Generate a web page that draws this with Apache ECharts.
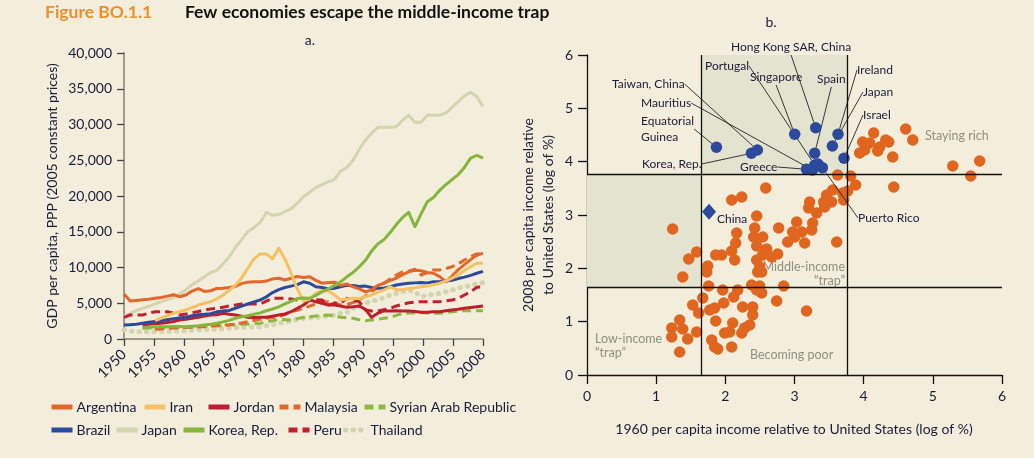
<!DOCTYPE html>
<html><head><meta charset="utf-8">
<script src="https://cdn.jsdelivr.net/npm/echarts@6/dist/echarts.min.js"></script>
<style>html,body{margin:0;padding:0;background:#f2eedb}#c{width:1034px;height:458px}</style>
</head><body><div id="c"></div>
<script>
// ---------- Panel a data (GDP per capita, PPP, 2005 constant prices), 1950..2008 ----------
const FIRST_YEAR = 1950, LAST_YEAR = 2008;
const YEARS = Array.from({length: LAST_YEAR - FIRST_YEAR + 1}, (_, i) => FIRST_YEAR + i);
const X_TICK_LABELS = ['1950','1955','1960','1965','1970','1975','1980','1985','1990','1995','2000','2005','2008'];
const Y_TICKS_A = [0, 40000, 5000];

const ARGENTINA = [6300,5300,5400,5500,5550,5700,5800,6000,6200,5900,
  6150,6700,7050,6650,6750,7080,7100,7200,7350,7750,
  7950,8000,8020,8100,8400,8500,8250,8500,8750,8600,
  8700,8200,7800,7900,7950,7500,7700,7300,7000,6600,
  6850,7500,7800,8200,8500,9000,9400,9600,9550,9300,
  9190,8720,8000,8800,9700,10400,11100,11700,12000];
const IRAN = [null,null,null,null,null,2560,2900,3250,3590,3850,
  4060,4400,4750,5000,5220,5600,6150,6800,7550,8500,
  9900,11200,11900,11900,11200,12700,11200,9200,7000,5300,
  5600,6400,6800,6700,6150,5450,5600,5700,5650,5900,
  6150,6550,6850,7300,6900,6900,7050,7150,7300,7400,
  7600,7800,8100,8500,9000,9600,10100,10600,10600];
const JORDAN = [null,null,null,1960,2050,2150,2200,2300,2450,2650,
  2750,2900,3030,3200,3360,3400,3590,3450,3360,3200,
  3030,3000,3030,3030,3200,3360,3500,3820,4300,4750,
  5450,5220,5000,4750,4750,4600,4430,4500,4620,4150,
  3030,3590,3920,3920,3950,3900,3920,3850,3730,3750,
  3800,3820,3950,4060,4150,4290,4400,4500,4620];
const MALAYSIA = [null,null,null,null,null,1350,1400,1490,1550,1600,
  1630,1650,1700,1720,1800,1900,1960,2000,2100,2250,
  2420,2600,2750,2890,3000,3120,3400,3820,4000,4290,
  4600,4900,5100,5220,5100,4750,4800,5100,5450,6000,
  6620,7200,7790,8400,8950,9410,9500,9750,8950,9300,
  9650,9650,9850,10110,10500,11050,11500,11890,11980];
const SYRIA = [null,null,null,1500,1550,1550,1550,1580,1580,1600,
  1600,1650,1720,1750,1800,1820,1880,1960,2000,2050,
  2100,2150,2190,2400,2560,2750,2700,2660,2850,3030,
  3100,3220,3300,3360,3200,3030,2950,2890,2700,2560,
  2650,2750,2900,3030,3300,3590,3620,3650,3680,3650,
  3600,3590,3700,3820,3900,3960,3960,3960,3960];
const BRAZIL = [1960,2000,2050,2200,2350,2450,2550,2700,2850,2950,
  3050,3250,3400,3450,3550,3800,3900,4000,4300,4600,
  4900,5200,5450,5900,6500,6900,7200,7400,7600,8000,
  7800,7300,7200,7000,7100,7300,7500,7500,7350,7400,
  7200,7100,7100,7300,7550,7700,7800,7850,7900,7850,
  8000,8020,8100,8200,8450,8650,8900,9200,9450];
const JAPAN = [3200,3600,3950,4300,4550,4900,5200,5500,5800,6300,
  6900,7600,8100,8700,9300,9600,10500,11500,12800,13900,
  15000,15600,16300,17700,17300,17400,17800,18200,19000,19900,
  20500,21200,21600,22000,22300,23500,24000,25000,26500,27800,
  28800,29600,29600,29600,29700,30600,31300,30300,30300,31300,
  31300,31300,31600,32400,33200,34000,34500,33900,32500];
const KOREA = [null,null,null,1600,1650,1700,1700,1700,1750,1750,
  1720,1780,1850,1950,2050,2200,2400,2600,2900,3100,
  3250,3450,3650,3950,4200,4500,4900,5250,5650,5750,
  5700,6100,6600,7000,7500,8000,8700,9300,10100,11000,
  12300,13300,13900,14900,16000,17000,17700,15700,17500,19200,
  19800,20800,21600,22300,23000,24000,25300,25700,25300];
const PERU = [3030,3360,3360,3360,3600,3820,3820,3820,3600,3360,
  3500,3680,3850,4060,4200,4290,4450,4620,4750,4900,
  4900,4900,4900,5300,5690,5690,5690,5600,5450,5500,
  5590,5500,5450,4750,4990,4990,5690,5450,5220,4060,
  3920,3920,4100,4290,4620,4850,5080,5150,5220,5200,
  5220,5220,5350,5450,5700,6150,6600,7230,7310];
const THAILAND = [1260,1100,1020,1020,1020,1020,1050,1080,1100,1120,
  1180,1230,1260,1300,1350,1400,1450,1500,1580,1620,
  1650,1680,1720,1850,2000,2190,2350,2500,2750,2900,
  2950,3030,3100,3220,3350,3590,3700,4290,4700,4990,
  5300,5450,5800,6150,6400,6620,6850,6600,5920,6100,
  6300,6390,6600,6850,7100,7310,7500,7700,7880];

// ---------- Panel b data (log of % of US income) ----------
const THRESH_X = [1.65, 3.76];
const THRESH_Y = [1.65, 3.76];
const B_TICKS = [0, 6, 1];
const BLUE_NAMES = ['Hong Kong SAR, China','Portugal','Singapore','Spain','Ireland','Japan','Israel',
  'Taiwan, China','Mauritius','Equatorial\nGuinea','Korea, Rep.','Greece','Puerto Rico'];
const BLUE_X = [3.306,3.292,3.003,3.292,3.629,3.548,3.716,2.463,3.259,1.871,2.377,3.172,3.403];
const BLUE_Y = [4.637,3.938,4.513,4.157,4.513,4.294,4.063,4.219,3.844,4.270,4.157,3.857,3.888];
const BLUE_EXTRA = [[3.34,3.957]];
const CHINA = [[1.764,3.062]];
const ORANGE = [
 [4.145,4.538],[3.986,4.369],[4.087,4.350],[3.942,4.163],[4.015,4.219],[4.232,4.275],[4.319,4.406],
 [4.362,4.369],[4.203,4.200],[4.420,4.088],[4.608,4.613],[4.710,4.406],[5.288,3.919],[5.548,3.731],
 [5.677,4.013],[3.624,3.750],[3.812,3.731],[3.884,3.563],[3.769,3.450],[4.435,3.525],
 [3.552,3.469],[3.697,3.413],[3.711,3.281],[3.465,3.375],[3.422,3.244],[3.537,3.244],[3.219,3.244],
 [3.204,3.131],[3.320,3.038],[3.436,3.150],[3.032,2.869],[3.263,2.850],[3.249,2.719],[3.104,2.681],
 [2.974,2.681],[2.902,2.494],[3.003,2.588],[3.147,2.475],[3.610,2.494],[2.584,3.506],[2.237,3.338],
 [2.092,3.281],[2.453,2.981],[2.424,2.756],[2.540,2.588],[2.771,2.756],[2.164,2.663],[2.150,2.475],
 [2.092,2.325],[2.135,2.156],[2.453,2.419],[2.598,2.363],[2.540,2.250],[2.757,2.269],[2.670,2.213],
 [2.497,2.025],[2.468,1.931],[2.381,1.688],[2.497,1.669],[2.844,1.669],[1.861,2.250],[1.947,2.250],
 [1.745,2.044],[1.731,1.931],[2.410,2.588],[2.453,2.156],[2.526,1.931],[2.453,1.594],[2.526,1.538],
 [2.742,1.388],
 [1.239,2.738],[1.586,2.306],[1.470,2.175],[1.384,1.838],
 [1.759,1.669],[1.962,1.594],[2.179,1.594],[2.121,1.463],[1.976,1.350],[1.673,1.444],[1.774,1.219],
 [1.846,1.256],[1.861,1.013],[2.251,1.275],[2.396,1.275],[2.396,1.125],[2.106,0.975],[2.063,0.806],
 [1.991,0.788],[2.237,0.788],[2.280,0.881],[2.352,0.938],[1.803,0.656],[1.846,0.525],[1.890,0.488],
 [2.092,0.525],[3.174,1.200],[1.586,0.806],
 [1.528,1.313],[1.615,1.163],[1.340,1.031],[1.225,0.881],[1.225,0.713],[1.384,0.863],[1.456,0.675],
 [1.340,0.431]
];

// ---------- styling ----------
const FONT = 'Lato, "Open Sans", sans-serif';
const INK = '#1b1b3a';
const GREY = '#8f8f7f';
const SERIES_A = [
  {name:'Japan', data:JAPAN, color:'#d3d5ae', type:'solid', width:3},
  {name:'Thailand', data:THAILAND, color:'#d3d5ae', type:[0.5,7], width:5, cap:'round'},
  {name:'Syrian Arab Republic', data:SYRIA, color:'#8bba3e', type:[9,5], width:3},
  {name:'Malaysia', data:MALAYSIA, color:'#e3672a', type:[9,5], width:3},
  {name:'Peru', data:PERU, color:'#c41f2e', type:[9,5], width:3},
  {name:'Jordan', data:JORDAN, color:'#be1e2d', type:'solid', width:3},
  {name:'Brazil', data:BRAZIL, color:'#2c4a9c', type:'solid', width:3},
  {name:'Argentina', data:ARGENTINA, color:'#e3672a', type:'solid', width:3},
  {name:'Iran', data:IRAN, color:'#f6c163', type:'solid', width:3},
  {name:'Korea, Rep.', data:KOREA, color:'#84b63c', type:'solid', width:3}
];
const LEGEND_POS = [
  {name:'Argentina', left:49, top:400}, {name:'Iran', left:142, top:400}, {name:'Jordan', left:206, top:400},
  {name:'Malaysia', left:277, top:400}, {name:'Syrian Arab Republic', left:362, top:400},
  {name:'Brazil', left:49, top:423}, {name:'Japan', left:114, top:423}, {name:'Korea, Rep.', left:181, top:423},
  {name:'Peru', left:286, top:423}, {name:'Thailand', left:343, top:423}
];
const BLUE_LABEL_POS = [
  [731,47],[705,66],[750,77],[817,79],[857,70],[863,92],[863,115],
  [612,84],[641,103],[641,129],[642,164],[740,167],[858,218]
];

const X_STEP = (LAST_YEAR - FIRST_YEAR) / (X_TICK_LABELS.length - 1);

const chart = echarts.init(document.getElementById('c'));
const lineSeries = SERIES_A.map(s => ({
  name: s.name, type: 'line', xAxisIndex: 0, yAxisIndex: 0,
  data: YEARS.map((y, i) => [y, s.data[i]]).filter(p => p[1] != null),
  showSymbol: false, symbol: 'none', color: s.color,
  lineStyle: {color: s.color, width: s.width, type: s.type, cap: s.cap || 'butt', join: 'round'},
  itemStyle: {color: s.color}
}));

const option = {
  backgroundColor: '#f2eedb',
  animation: false,
  textStyle: {fontFamily: FONT},
  grid: [
    {left: 124, top: 53, width: 359, height: 286},
    {left: 587, top: 55, width: 415, height: 320}
  ],
  xAxis: [
    {type: 'value', gridIndex: 0, min: FIRST_YEAR, max: LAST_YEAR, interval: X_STEP,
     axisLine: {lineStyle: {color: '#9d9c8c', width: 2}},
     axisTick: {length: 7, lineStyle: {color: '#444', width: 1.3}},
     splitLine: {show: false},
     axisLabel: {rotate: 45, margin: 13, fontSize: 14.5, color: INK, fontFamily: FONT,
       formatter: v => X_TICK_LABELS[Math.round((v - FIRST_YEAR) / X_STEP)]}},
    {type: 'value', gridIndex: 1, min: B_TICKS[0], max: B_TICKS[1], interval: B_TICKS[2],
     axisLine: {lineStyle: {color: '#111', width: 1.3}},
     axisTick: {length: 9, lineStyle: {color: '#111', width: 1.3}},
     splitLine: {show: false},
     axisLabel: {margin: 14, fontSize: 14, color: INK, fontFamily: FONT}}
  ],
  yAxis: [
    {type: 'value', gridIndex: 0, min: Y_TICKS_A[0], max: Y_TICKS_A[1], interval: Y_TICKS_A[2],
     axisLine: {show: true, lineStyle: {color: '#9d9c8c', width: 2}},
     axisTick: {show: true, length: 7, lineStyle: {color: '#444', width: 1.3}},
     splitLine: {show: false},
     axisLabel: {margin: 12, fontSize: 14, color: INK, fontFamily: FONT,
       formatter: v => v.toLocaleString('en-US')}},
    {type: 'value', gridIndex: 1, min: B_TICKS[0], max: B_TICKS[1], interval: B_TICKS[2],
     axisLine: {show: true, lineStyle: {color: '#111', width: 1.3}},
     axisTick: {show: true, length: 9, lineStyle: {color: '#111', width: 1.3}},
     splitLine: {show: false},
     axisLabel: {margin: 14, fontSize: 14, color: INK, fontFamily: FONT}}
  ],
  legend: LEGEND_POS.map(l => ({
    data: [l.name], left: l.left, top: l.top, itemWidth: 21, itemHeight: 12, itemGap: 0,
    selectedMode: false, padding: 0,
    itemStyle: {opacity: 0, borderWidth: 0},
    lineStyle: {width: 5},
    textStyle: {fontSize: 14, color: INK, fontFamily: FONT, padding: [0, 0, 0, -1]}
  })),
  series: [
    ...lineSeries,
    {type: 'scatter', xAxisIndex: 1, yAxisIndex: 1, data: [], z: 1, silent: true,
     markArea: {silent: true, itemStyle: {color: '#e3e3cf'},
       data: [
         [{coord: [THRESH_X[0], THRESH_Y[1]]}, {coord: [THRESH_X[1], B_TICKS[1]]}],
         [{coord: [B_TICKS[0], THRESH_Y[0]]}, {coord: [THRESH_X[0], THRESH_Y[1]]}]
       ]}},
    {type: 'scatter', xAxisIndex: 1, yAxisIndex: 1, data: [], z: 2, silent: true,
     markLine: {silent: true, symbol: 'none', label: {show: false},
       lineStyle: {color: '#111', width: 1.3, type: 'solid'},
       data: [{xAxis: THRESH_X[0]}, {xAxis: THRESH_X[1]}, {yAxis: THRESH_Y[0]}, {yAxis: THRESH_Y[1]}]}},
    {type: 'scatter', xAxisIndex: 1, yAxisIndex: 1, z: 3, data: ORANGE, symbolSize: 11.5,
     itemStyle: {color: '#e0661f', opacity: 1}},
    {type: 'scatter', xAxisIndex: 1, yAxisIndex: 1, z: 4, data: BLUE_EXTRA, symbolSize: 11.5,
     itemStyle: {color: '#2c4a9c', opacity: 1}},
    {type: 'scatter', xAxisIndex: 1, yAxisIndex: 1, z: 4, symbolSize: 11.5,
     itemStyle: {color: '#2c4a9c', opacity: 1},
     data: BLUE_NAMES.map((n, i) => ({name: n, value: [BLUE_X[i], BLUE_Y[i]]})),
     label: {show: true, formatter: '{b}', color: INK, fontSize: 12, lineHeight: 16, fontFamily: FONT},
     labelLine: {show: true, lineStyle: {color: '#222', width: 0.9}},
     labelLayout: p => ({x: BLUE_LABEL_POS[p.dataIndex][0], y: BLUE_LABEL_POS[p.dataIndex][1],
                         align: 'left', verticalAlign: 'middle'})},
    {type: 'scatter', xAxisIndex: 1, yAxisIndex: 1, z: 4, data: CHINA, symbol: 'diamond', symbolSize: [14, 16],
     itemStyle: {color: '#2c4a9c', opacity: 1},
     label: {show: true, formatter: 'China', position: 'right', distance: 1, offset: [0, 7], color: INK, fontSize: 12, fontFamily: FONT}}
  ],
  graphic: [
    {type: 'text', left: 45, top: 3, style: {text: 'Figure BO.1.1', font: 'bold 17.5px ' + FONT, fill: '#e8912d'}},
    {type: 'text', left: 185, top: 3, style: {text: 'Few economies escape the middle-income trap', font: 'bold 17.5px ' + FONT, fill: '#111'}},
    {type: 'text', x: 310, y: 40, style: {text: 'a.', font: '14px ' + FONT, fill: INK, align: 'center', verticalAlign: 'middle', textAlign: 'center', textVerticalAlign: 'middle'}},
    {type: 'text', x: 771, y: 22, style: {text: 'b.', font: '14px ' + FONT, fill: INK, align: 'center', verticalAlign: 'middle', textAlign: 'center', textVerticalAlign: 'middle'}},
    {type: 'text', x: 52, y: 196, rotation: Math.PI / 2,
     style: {text: 'GDP per capita, PPP (2005 constant prices)', font: '14px ' + FONT, fill: INK, align: 'center', verticalAlign: 'middle', textAlign: 'center', textVerticalAlign: 'middle'}},
    {type: 'text', x: 538, y: 215, rotation: Math.PI / 2,
     style: {text: '2008 per capita income relative\nto United States (log of %)', font: '14px ' + FONT, lineHeight: 20, fill: INK, align: 'center', verticalAlign: 'middle', textAlign: 'center', textVerticalAlign: 'middle'}},
    {type: 'text', x: 794, y: 429,
     style: {text: '1960 per capita income relative to United States (log of %)', font: '14px ' + FONT, fill: INK, align: 'center', verticalAlign: 'middle', textAlign: 'center', textVerticalAlign: 'middle'}},
    {type: 'text', x: 707, y: 71, style: {text: 'Middle-\nincome to\nhigh-income', font: '11px ' + FONT, lineHeight: 12, fill: GREY}},
    {type: 'text', x: 925, y: 129, style: {text: 'Staying rich', font: '12.5px ' + FONT, fill: GREY}},
    {type: 'text', x: 603, y: 222, style: {text: 'From low-\nincome to\nmiddle-income', font: '12.5px ' + FONT, lineHeight: 13.5, fill: GREY}},
    {type: 'text', x: 845, y: 260, style: {text: 'Middle-income\n\u201ctrap\u201d', font: '12.5px ' + FONT, lineHeight: 14, fill: GREY, align: 'right', textAlign: 'right'}},
    {type: 'text', x: 595, y: 332, style: {text: 'Low-income\n\u201ctrap\u201d', font: '12.5px ' + FONT, lineHeight: 14, fill: GREY}},
    {type: 'text', x: 750, y: 348, style: {text: 'Becoming poor', font: '12.5px ' + FONT, fill: GREY}}
  ]
};
chart.setOption(option);
</script>
</body></html>
